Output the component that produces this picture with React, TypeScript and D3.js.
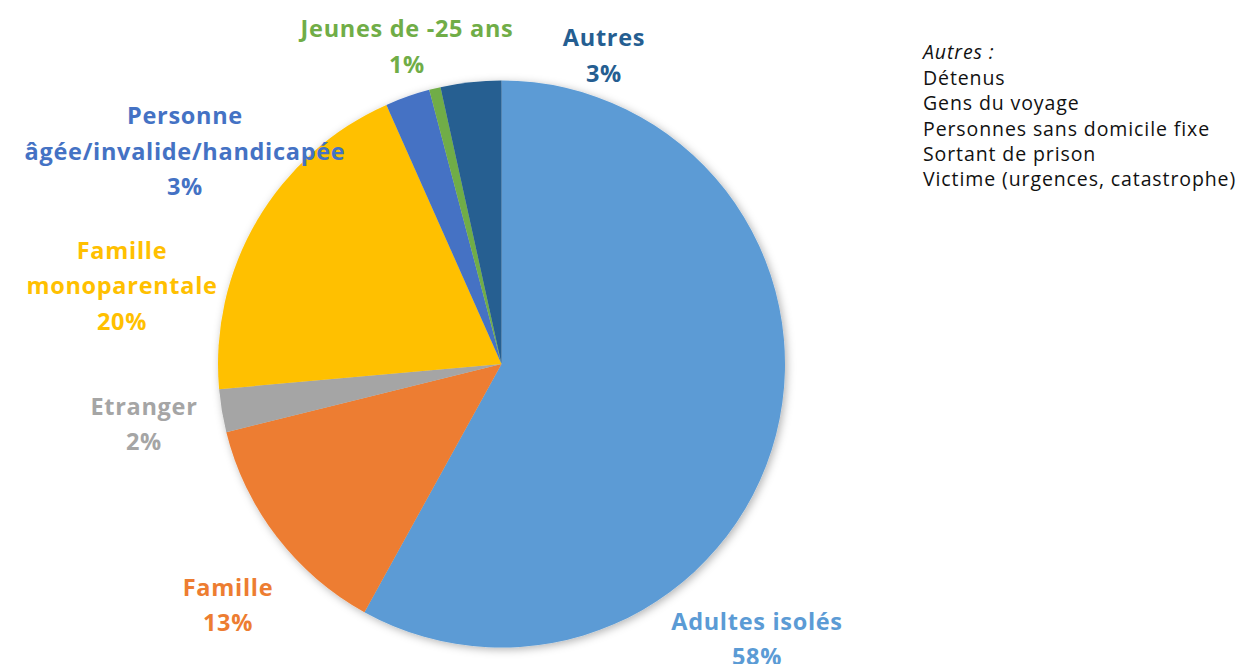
import * as d3 from "d3";
import { useEffect, useRef } from "react";

// categories in drawing order, clockwise from 12 o'clock
const categories = [
  "Adultes isolés",
  "Famille",
  "Etranger",
  "Famille monoparentale",
  "Personne âgée/invalide/handicapée",
  "Jeunes de -25 ans",
  "Autres",
];
const values = [58.0, 13.1, 2.45, 19.75, 2.55, 0.65, 3.45];
const colors = ["#5B9BD5", "#ED7D31", "#A5A5A5", "#FFC000", "#4472C4", "#70AD47", "#255E91"];
// how each category label is broken into lines
const labelLines = [
  ["Adultes isolés"],
  ["Famille"],
  ["Etranger"],
  ["Famille", "monoparentale"],
  ["Personne", "âgée/invalide/handicapée"],
  ["Jeunes de -25 ans"],
  ["Autres"],
];
const autresTitle = "Autres :";
const autresItems = [
  "Détenus",
  "Gens du voyage",
  "Personnes sans domicile fixe",
  "Sortant de prison",
  "Victime (urgences, catastrophe)",
];

const W = 1251;
const H = 664;
const cx = 501.5;
const cy = 364;
const R = 283.5;

// label anchor (center x, first baseline y), layout only
const labelPos = [
  [757, 629.5],
  [228, 595.5],
  [144, 414.5],
  [122, 258.5],
  [185, 124],
  [407, 37],
  [604, 46],
];

export default function App() {
  const ref = useRef<SVGSVGElement>(null);

  useEffect(() => {
    const svg = d3.select(ref.current);
    svg.selectAll("*").remove();

    const defs = svg.append("defs");
    defs
      .append("filter")
      .attr("id", "shadow")
      .attr("x", "-10%")
      .attr("y", "-10%")
      .attr("width", "120%")
      .attr("height", "120%")
      .append("feDropShadow")
      .attr("dx", 2)
      .attr("dy", 2)
      .attr("stdDeviation", 4)
      .attr("flood-color", "#000")
      .attr("flood-opacity", 0.3);

    const pie = d3
      .pie<number>()
      .sort(null)
      .value((d) => d);
    const arcs = pie(values);
    const arc = d3.arc<d3.PieArcDatum<number>>().innerRadius(0).outerRadius(R);

    const g = svg
      .append("g")
      .attr("transform", `translate(${cx},${cy})`)
      .attr("filter", "url(#shadow)");

    g.selectAll("path")
      .data(arcs)
      .join("path")
      .attr("d", arc)
      .attr("fill", (_, i) => colors[i]);

    // data labels
    const lineH = 35.5;
    const labels = svg
      .append("g")
      .attr("font-family", "'Open Sans', Lato, sans-serif")
      .attr("font-weight", "bold")
      .attr("font-size", 23.5)
      .attr("letter-spacing", 0.7)
      .attr("text-anchor", "middle");

    categories.forEach((c, i) => {
      const [x, y] = labelPos[i];
      const lines = [...labelLines[i], `${Math.round(values[i])}%`];
      const t = labels.append("text").attr("fill", colors[i]).attr("x", x).attr("y", y);
      lines.forEach((l, j) => {
        t.append("tspan")
          .attr("x", x)
          .attr("y", y + j * lineH)
          .text(l);
      });
    });

    // "Autres" note on the right
    const note = svg
      .append("g")
      .attr("font-family", "'Open Sans', Lato, sans-serif")
      .attr("font-size", 19.5)
      .attr("letter-spacing", 0.9)
      .attr("fill", "#111");
    note
      .append("text")
      .attr("x", 923)
      .attr("y", 59)
      .attr("font-style", "italic")
      .text(autresTitle);
    autresItems.forEach((s, i) => {
      note
        .append("text")
        .attr("x", 923)
        .attr("y", 85 + i * 25.3)
        .text(s);
    });
  }, []);

  return (
    <svg
      ref={ref}
      width={W}
      height={H}
      style={{ position: "absolute", left: 0, top: 0, background: "#fff" }}
    />
  );
}
